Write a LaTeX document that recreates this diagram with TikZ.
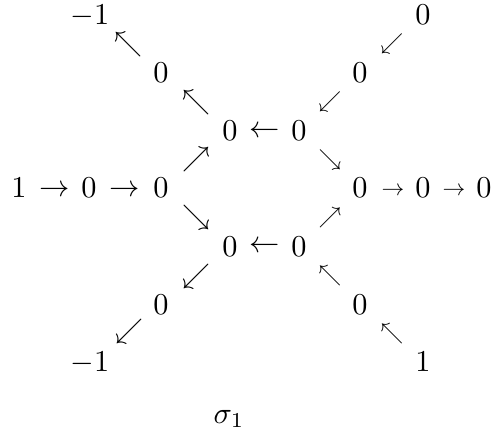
\documentclass[tikz,border=0pt]{standalone}
\usepackage{amsmath}
\begin{document}
\begin{tikzpicture}[x=0.33pt,y=-0.33pt,
  lbl/.style={inner sep=0pt,anchor=base},
  arr/.style={inner sep=0pt,anchor=center},
  darr/.style={inner sep=0pt,anchor=center,scale=0.92},
  sarr/.style={inner sep=0pt,anchor=center,scale=0.75}]
\useasboundingbox (0,0) rectangle (493,433);
% top-left branch
\node[lbl] (tl2) at (90,24.5) {$-1$};
\node[darr] (a1) at (128,45) {$\nwarrow$};
\node[lbl] (tl1) at (161,82.5) {$0$};
\node[darr] (a2) at (196,103) {$\nwarrow$};
% top right branch
\node[lbl] (tr2) at (423,24.5) {$0$};
\node[sarr] (a3) at (392,44) {$\swarrow$};
\node[lbl] (tr1) at (360,82.5) {$0$};
\node[sarr] (a4) at (330,102) {$\swarrow$};
% top pair
\node[lbl] (c1) at (230,140.5) {$0$};
\node[arr] (h1) at (265,131.5) {$\leftarrow$};
\node[lbl] (c2) at (299,140.5) {$0$};
% diagonals to middle
\node[darr] (a5) at (196,160) {$\nearrow$};
\node[sarr] (a6) at (330,160) {$\searrow$};
% middle row
\node[lbl] (m1) at (19,197.5) {$1$};
\node[arr] (h2) at (55,190.5) {$\rightarrow$};
\node[lbl] (m2) at (89,197.5) {$0$};
\node[arr] (h3) at (125,190.5) {$\rightarrow$};
\node[lbl] (m3) at (161,197.5) {$0$};
\node[lbl] (m4) at (360,197.5) {$0$};
\node[sarr] (h4) at (393,191) {$\rightarrow$};
\node[lbl] (m5) at (423,197.5) {$0$};
\node[sarr] (h5) at (454,191) {$\rightarrow$};
\node[lbl] (m6) at (484,197.5) {$0$};
% diagonals from middle
\node[darr] (a7) at (196,218) {$\searrow$};
\node[sarr] (a8) at (330,218) {$\nearrow$};
% bottom pair
\node[lbl] (d1) at (230,256.5) {$0$};
\node[arr] (h6) at (265,246.5) {$\leftarrow$};
\node[lbl] (d2) at (299,256.5) {$0$};
% bottom-left branch
\node[darr] (a9) at (196,277) {$\swarrow$};
\node[lbl] (bl1) at (161,314.5) {$0$};
\node[darr] (a10) at (129,332) {$\swarrow$};
\node[lbl] (bl2) at (90,371) {$-1$};
% bottom-right branch
\node[sarr] (a11) at (330,276) {$\nwarrow$};
\node[lbl] (br1) at (360,314.5) {$0$};
\node[sarr] (a12) at (392,334) {$\nwarrow$};
\node[lbl] (br2) at (423,371.5) {$1$};
% label
\node[lbl] (sig) at (229,423) {$\sigma_1$};
\end{tikzpicture}
\end{document}
